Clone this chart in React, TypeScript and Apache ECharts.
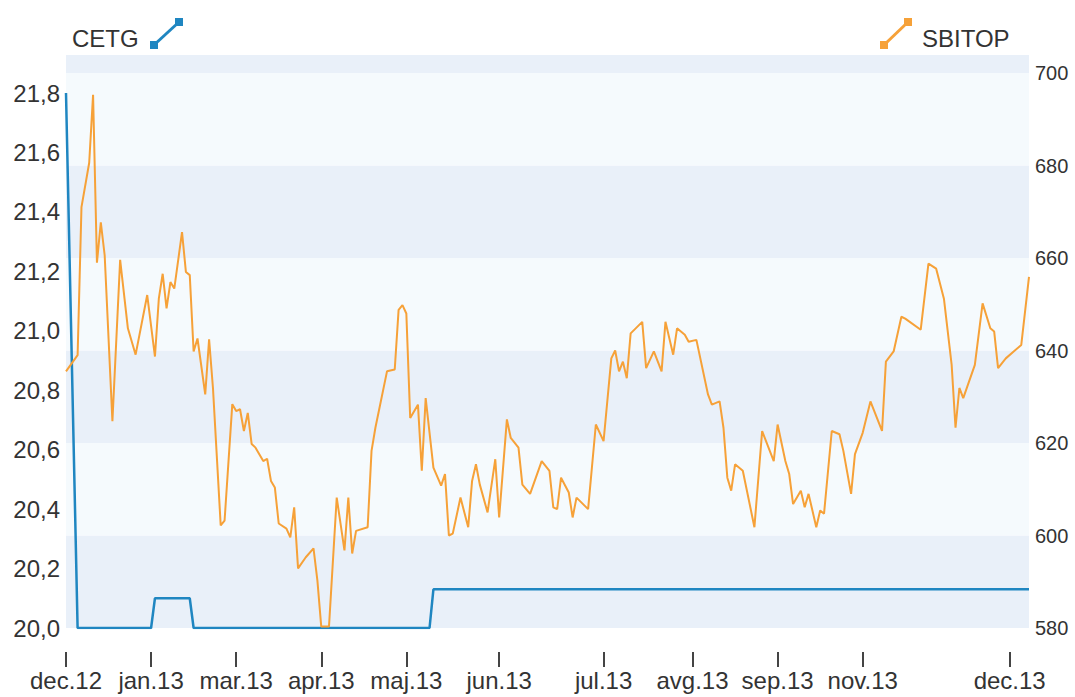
import React, { useEffect, useRef } from "react";
import * as echarts from "echarts";

// ---- data ----
const categoryCount = 250; // trading days shown on the x axis
const tickDays = [0, 22, 44, 66, 88, 112, 139, 162, 184, 206, 244];
const tickLabels = ["dec.12", "jan.13", "mar.13", "apr.13", "maj.13", "jun.13", "jul.13", "avg.13", "sep.13", "nov.13", "dec.13"];

const cetgDays = [0, 3, 22, 23, 32, 33, 94, 95, 249];
const cetgValues = [21.8, 20.0, 20.0, 20.1, 20.1, 20.0, 20.0, 20.13, 20.13];

const sbitopDays = [
  0, 3, 4, 6, 7, 8, 9, 10, 12, 14, 16, 18, 21, 23, 24, 25, 26, 27, 28, 30,
  31, 32, 33, 34, 36, 37, 38, 40, 41, 43, 44, 45, 46, 47, 48, 49, 51, 52, 53, 54,
  55, 57, 58, 59, 60, 62, 64, 65, 66, 68, 70, 72, 73, 74, 75, 78, 79, 80, 83, 85,
  86, 87, 88, 89, 91, 92, 93, 95, 97, 98, 99, 100, 102, 104, 105, 106, 107, 109, 111, 112,
  114, 115, 117, 118, 120, 123, 125, 126, 127, 128, 130, 131, 132, 135, 137, 139, 141, 142, 143, 144,
  145, 146, 149, 150, 152, 154, 155, 157, 158, 160, 161, 163, 166, 167, 169, 170, 171, 172, 173, 175,
  178, 180, 183, 184, 186, 187, 188, 190, 191, 192, 194, 195, 196, 198, 200, 201, 203, 204, 206, 208,
  211, 212, 214, 216, 217, 221, 223, 225, 227, 229, 230, 231, 232, 235, 237, 239, 240, 241, 243, 247,
  249,
];
const sbitopValues = [
  635.5, 639, 671, 680.6, 695.3, 659, 667.7, 660.6, 624.7, 659.6, 644.8, 639.1, 652, 638.7, 651.2, 656.6, 649.1, 654.8, 653.4, 665.6,
  657, 656.3, 639.8, 642.6, 630.5, 642.4, 631.9, 602.2, 603.2, 628.4, 626.9, 627.3, 622.6, 626.5, 619.8, 619, 616.1, 616.6, 611.8, 610.4,
  602.6, 601.5, 599.6, 606.1, 592.9, 595.3, 597.2, 590.3, 580.3, 580.3, 608.2, 596.8, 608.2, 596.1, 601, 601.8, 618.3, 623.3, 635.5, 635.9,
  648.8, 649.8, 648, 625.4, 628.3, 614, 629.7, 614.7, 610.8, 613.3, 600, 600.4, 608.2, 601.8, 611.8, 615.4, 611, 605, 616.5, 603.9,
  625.1, 621.1, 619, 611, 609, 616.1, 614, 606.1, 605.7, 612.5, 609.3, 603.9, 608.2, 605.7, 624, 620.4, 638.3, 640, 635.5, 637.6,
  634, 643.7, 646.2, 636.2, 639.8, 635.5, 646.2, 639.1, 644.8, 643.4, 641.9, 642.3, 630.5, 628.3, 629, 623.3, 612.5, 609.7, 615.4, 614,
  601.8, 622.6, 616.1, 624, 616.1, 613.3, 606.8, 609.7, 606.1, 609, 601.8, 605.4, 604.7, 622.6, 621.9, 618.3, 609, 617.6, 622.2, 629,
  622.6, 637.6, 639.8, 647.3, 646.9, 644.5, 658.8, 657.7, 651.2, 636.9, 623.3, 631.9, 629.7, 636.9, 650.2, 644.8, 644.1, 636.2, 638.3, 641.2,
  655.9,
];

const seriesNames = ["CETG", "SBITOP"];

const leftMin = 20;
const leftMax = 21.928;
const leftStep = 0.2;
const rightMin = 580;
const rightMax = 703.9;
const rightStep = 20;

const BLUE = "#1f86c1";
const ORANGE = "#f6a138";
const FONT = "'Liberation Sans', Arial, sans-serif";
const TEXT = "#333333";

function legendIcon(x1: number, y1: number, x2: number, y2: number, color: string) {
  const s = 8;
  return [
    { type: "line", shape: { x1, y1, x2, y2 }, style: { stroke: color, lineWidth: 3 }, silent: true },
    { type: "rect", shape: { x: x1 - s / 2, y: y1 - s / 2, width: s, height: s }, style: { fill: color }, silent: true },
    { type: "rect", shape: { x: x2 - s / 2, y: y2 - s / 2, width: s, height: s }, style: { fill: color }, silent: true },
  ];
}

export default function App() {
  const ref = useRef<HTMLDivElement>(null);

  useEffect(() => {
    if (!ref.current) return;
    const chart = echarts.init(ref.current, undefined, { renderer: "svg" });

    const categories = Array.from({ length: categoryCount }, (_, i) => String(i));
    const tickSet = new Set(tickDays);
    const labelOf = (i: number) => {
      const k = tickDays.indexOf(i);
      return k >= 0 ? tickLabels[k] : "";
    };
    const cetgData = cetgDays.map((d, i) => [d, cetgValues[i]]);
    const sbitopData = sbitopDays.map((d, i) => [d, sbitopValues[i]]);

    chart.setOption({
      animation: false,
      textStyle: { fontFamily: FONT },
      graphic: [
        {
          type: "text",
          x: 72,
          y: 38,
          silent: true,
          style: { text: seriesNames[0], fontSize: 24, fontFamily: FONT, fill: TEXT, verticalAlign: "middle", align: "left" },
        },
        ...legendIcon(154, 45, 179, 22, BLUE),
        ...legendIcon(884, 45, 908, 22, ORANGE),
        {
          type: "text",
          x: 922,
          y: 38,
          silent: true,
          style: { text: seriesNames[1], fontSize: 24, fontFamily: FONT, fill: TEXT, verticalAlign: "middle", align: "left" },
        },
      ],
      grid: { left: 66, right: 46, top: 55, bottom: 69, containLabel: false },
      xAxis: {
        type: "category",
        data: categories,
        boundaryGap: false,
        offset: 24,
        axisLine: { show: false },
        axisTick: {
          show: true,
          interval: (i: number) => tickSet.has(i),
          length: 15,
          lineStyle: { color: "#444", width: 2 },
        },
        axisLabel: {
          interval: (i: number) => tickSet.has(i),
          formatter: (_v: string, i: number) => labelOf(i),
          margin: 16,
          fontSize: 24,
          color: TEXT,
          fontFamily: FONT,
        },
        splitLine: { show: false },
      },
      yAxis: [
        {
          type: "value",
          position: "left",
          min: leftMin,
          max: leftMax,
          interval: leftStep,
          axisLine: { show: false },
          axisTick: { show: false },
          splitLine: { show: false },
          axisLabel: {
            showMaxLabel: false,
            margin: 6,
            fontSize: 24,
            color: TEXT,
            fontFamily: FONT,
            formatter: (v: number) => v.toFixed(1).replace(".", ","),
          },
        },
        {
          type: "value",
          position: "right",
          min: rightMin,
          max: rightMax,
          interval: rightStep,
          axisLine: { show: false },
          axisTick: { show: false },
          splitLine: { show: false },
          splitArea: { show: true, areaStyle: { color: ["#e9f0f9", "#f5fafd"] } },
          axisLabel: {
            showMaxLabel: false,
            margin: 6,
            fontSize: 20,
            color: TEXT,
            fontFamily: FONT,
            formatter: (v: number) => String(Math.round(v)),
          },
        },
      ],
      series: [
        {
          name: seriesNames[0],
          type: "line",
          yAxisIndex: 0,
          data: cetgData,
          showSymbol: false,
          symbol: "none",
          color: BLUE,
          lineStyle: { color: BLUE, width: 2.5 },
          z: 2,
        },
        {
          name: seriesNames[1],
          type: "line",
          yAxisIndex: 1,
          data: sbitopData,
          showSymbol: false,
          symbol: "none",
          color: ORANGE,
          lineStyle: { color: ORANGE, width: 2 },
          z: 3,
        },
      ],
    });

    return () => chart.dispose();
  }, []);

  return (
    <div
      ref={ref}
      style={{ position: "fixed", left: 0, top: 0, width: 1075, height: 697, background: "#fff" }}
    />
  );
}
